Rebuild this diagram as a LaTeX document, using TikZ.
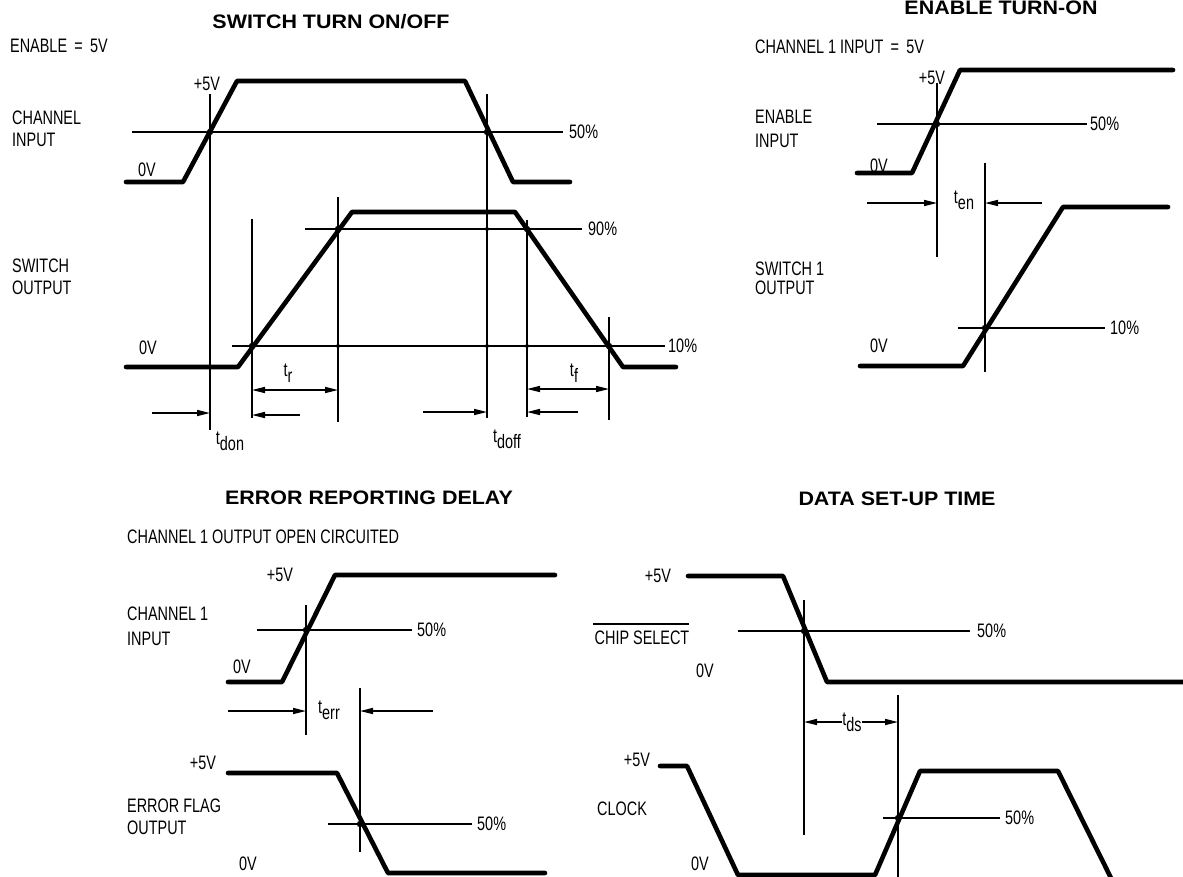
\documentclass[tikz,border=0pt]{standalone}
\usepackage{fontspec}
\setmainfont[FakeStretch=0.74]{Liberation Sans}
\newfontfamily\ttlfamily[FakeStretch=1.1]{Liberation Sans}
\usetikzlibrary{arrows.meta}
\newcommand\lblfont{\fontsize{19.5}{22}\selectfont}
\newcommand\ttlfont{\ttlfamily\bfseries\fontsize{19.5}{22}\selectfont}
\newcommand\tsym[1]{t\raisebox{-6pt}{#1}}
\begin{document}
\begin{tikzpicture}[x=1pt,y=-1pt,
  wave/.style={line width=4.6pt,line cap=round,line join=round},
  thinl/.style={line width=1.3pt},
  arr/.style={line width=1.4pt,-{Triangle[length=13pt,width=6pt]}},
  darr/.style={line width=1.4pt,{Triangle[length=13pt,width=6pt]}-{Triangle[length=13pt,width=6pt]}},
  lbl/.style={font=\lblfont,inner sep=0pt},
  ttl/.style={font=\ttlfont,inner sep=0pt}]
\useasboundingbox (0,0) rectangle (1183,876);

% ================= SWITCH TURN ON/OFF =================
\node[ttl] (t1) at (331,22) {SWITCH TURN ON/OFF};
\node[lbl,anchor=base west] (en5) at (10,52) {ENABLE \,=\, 5V};
\node[lbl,anchor=base west] (ci1) at (12,124) {CHANNEL};
\node[lbl,anchor=base west] (ci2) at (12,146) {INPUT};
\node[lbl,anchor=base west] (so1) at (12,272) {SWITCH};
\node[lbl,anchor=base west] (so2) at (12,294) {OUTPUT};
\node[lbl] (p5a) at (207,84) {+5V};
\node[lbl] (z0a) at (147,170) {0V};
\node[lbl] (z0b) at (148,348) {0V};
\node[lbl,anchor=west] (f50a) at (569,132) {50\%};
\node[lbl,anchor=west] (f90a) at (588,229) {90\%};
\node[lbl,anchor=west] (f10a) at (668,346) {10\%};
% threshold lines
\draw[thinl] (132,132) -- (563,132);
\draw[thinl] (305,229) -- (582,229);
\draw[thinl] (232,346) -- (665,346);
% verticals
\draw[thinl] (210,94) -- (210,430);
\draw[thinl] (487,94) -- (487,418);
\draw[thinl] (252,219) -- (252,418);
\draw[thinl] (338,197) -- (338,422);
\draw[thinl] (527,220) -- (527,417);
\draw[thinl] (609,317) -- (609,420);
% waveforms
\draw[wave] (126,182) -- (183,182) -- (237,81) -- (465,81) -- (513,182) -- (570,182);
\draw[wave] (126,367) -- (238,367) -- (352,212) -- (515,212) -- (623,367) -- (676,367);
% dots
\foreach \p in {(210,132),(487,132),(338,229),(527,229),(252,346),(609,346)} \fill \p circle (3.2);
\foreach \p in {(487,212),(487,229),(487,346),(338,346),(527,346),(210,367)} \fill \p circle (2);
% timing arrows
\draw[arr] (152,413) -- (210,413);
\draw[arr] (300,415) -- (252,415);
\draw[darr] (252,390) -- (338,390);
\draw[arr] (423,412) -- (487,412);
\draw[arr] (578,412) -- (527,412);
\draw[darr] (527,389) -- (609,389);
\node[lbl] (tdon) at (230,441) {\tsym{don}};
\node[lbl] (tr) at (288,373) {\tsym{r}};
\node[lbl] (tdoff) at (507,439) {\tsym{doff}};
\node[lbl] (tf) at (574,373) {\tsym{f}};

% ================= ENABLE TURN-ON =================
\node[ttl] (t2) at (1001,8) {ENABLE TURN-ON};
\node[lbl,anchor=base west] (c1i) at (755,53) {CHANNEL 1 INPUT \,=\, 5V};
\node[lbl,anchor=base west] (ei1) at (755,123) {ENABLE};
\node[lbl,anchor=base west] (ei2) at (755,147) {INPUT};
\node[lbl,anchor=base west] (s1o1) at (755,275) {SWITCH 1};
\node[lbl,anchor=base west] (s1o2) at (755,294) {OUTPUT};
\node[lbl] (p5b) at (932,78) {+5V};
\node[lbl] (z0c) at (879,166) {0V};
\node[lbl] (z0d) at (879,346) {0V};
\node[lbl,anchor=west] (f50b) at (1090,124) {50\%};
\node[lbl,anchor=west] (f10b) at (1110,328) {10\%};
\draw[thinl] (877,124) -- (1087,124);
\draw[thinl] (958,328) -- (1105,328);
\draw[thinl] (937,83) -- (937,257);
\draw[thinl] (985,163) -- (985,372);
\draw[wave] (857,173) -- (912,173) -- (960,70) -- (1173,70);
\draw[wave] (860,366) -- (963,366) -- (1063,207) -- (1168,207);
\fill (937,124) circle (3.2);
\fill (985,328) circle (3.2);
\draw[arr] (867,203) -- (937,203);
\draw[arr] (1042,203) -- (985,203);
\node[lbl] (ten) at (964,200) {\tsym{en}};

% ================= ERROR REPORTING DELAY =================
\node[ttl] (t3) at (369,498) {ERROR REPORTING DELAY};
\node[lbl,anchor=base west] (oc) at (127,543) {CHANNEL 1 OUTPUT OPEN CIRCUITED};
\node[lbl,anchor=base west] (c1a) at (127,620) {CHANNEL 1};
\node[lbl,anchor=base west] (c1b) at (127,645) {INPUT};
\node[lbl,anchor=base west] (efa) at (127,812) {ERROR FLAG};
\node[lbl,anchor=base west] (efb) at (127,834) {OUTPUT};
\node[lbl] (p5c) at (280,575) {+5V};
\node[lbl] (z0e) at (242,667) {0V};
\node[lbl] (p5d) at (203,763) {+5V};
\node[lbl] (z0f) at (248,864) {0V};
\node[lbl,anchor=west] (f50c) at (417,630) {50\%};
\node[lbl,anchor=west] (f50d) at (477,824) {50\%};
\draw[thinl] (257,630) -- (412,630);
\draw[thinl] (328,824) -- (472,824);
\draw[thinl] (306,605) -- (306,735);
\draw[thinl] (360,688) -- (360,852);
\draw[wave] (228,682) -- (282,682) -- (335,575) -- (555,575);
\draw[wave] (228,773) -- (337,773) -- (388,873) -- (545,873);
\fill (306,630) circle (3.2);
\fill (360,824) circle (3.2);
\draw[arr] (228,711) -- (306,711);
\draw[arr] (433,711) -- (360,711);
\node[lbl] (terr) at (329,710) {\tsym{err}};

% ================= DATA SET-UP TIME =================
\node[ttl] (t4) at (897,499) {DATA SET-UP TIME};
\node[lbl] (p5e) at (658,576) {+5V};
\node[lbl] (cs) at (642,638) {CHIP SELECT};
\draw[thinl] (593,624) -- (689,624);
\node[lbl] (z0g) at (705,671) {0V};
\node[lbl] (p5f) at (637,760) {+5V};
\node[lbl,anchor=base west] (clk) at (597,815) {CLOCK};
\node[lbl] (z0h) at (700,864) {0V};
\node[lbl,anchor=west] (f50e) at (977,631) {50\%};
\node[lbl,anchor=west] (f50f) at (1005,818) {50\%};
\draw[thinl] (738,631) -- (970,631);
\draw[thinl] (883,818) -- (1000,818);
\draw[thinl] (804,600) -- (804,835);
\draw[thinl] (898,695) -- (898,880);
\draw[wave] (688,576) -- (783,576) -- (827,682) -- (1190,682);
\draw[wave] (660,766) -- (687,766) -- (738,875) -- (875,875) -- (920,771) -- (1058,771) -- (1112,880);
\fill (804,631) circle (3.2);
\fill (898,818) circle (3.2);
\node[lbl] (tds) at (852,722) {\tsym{ds}};
\draw[arr] (tds.west) -- (804,722);
\draw[arr] (tds.east) -- (898,722);
\end{tikzpicture}
\end{document}
